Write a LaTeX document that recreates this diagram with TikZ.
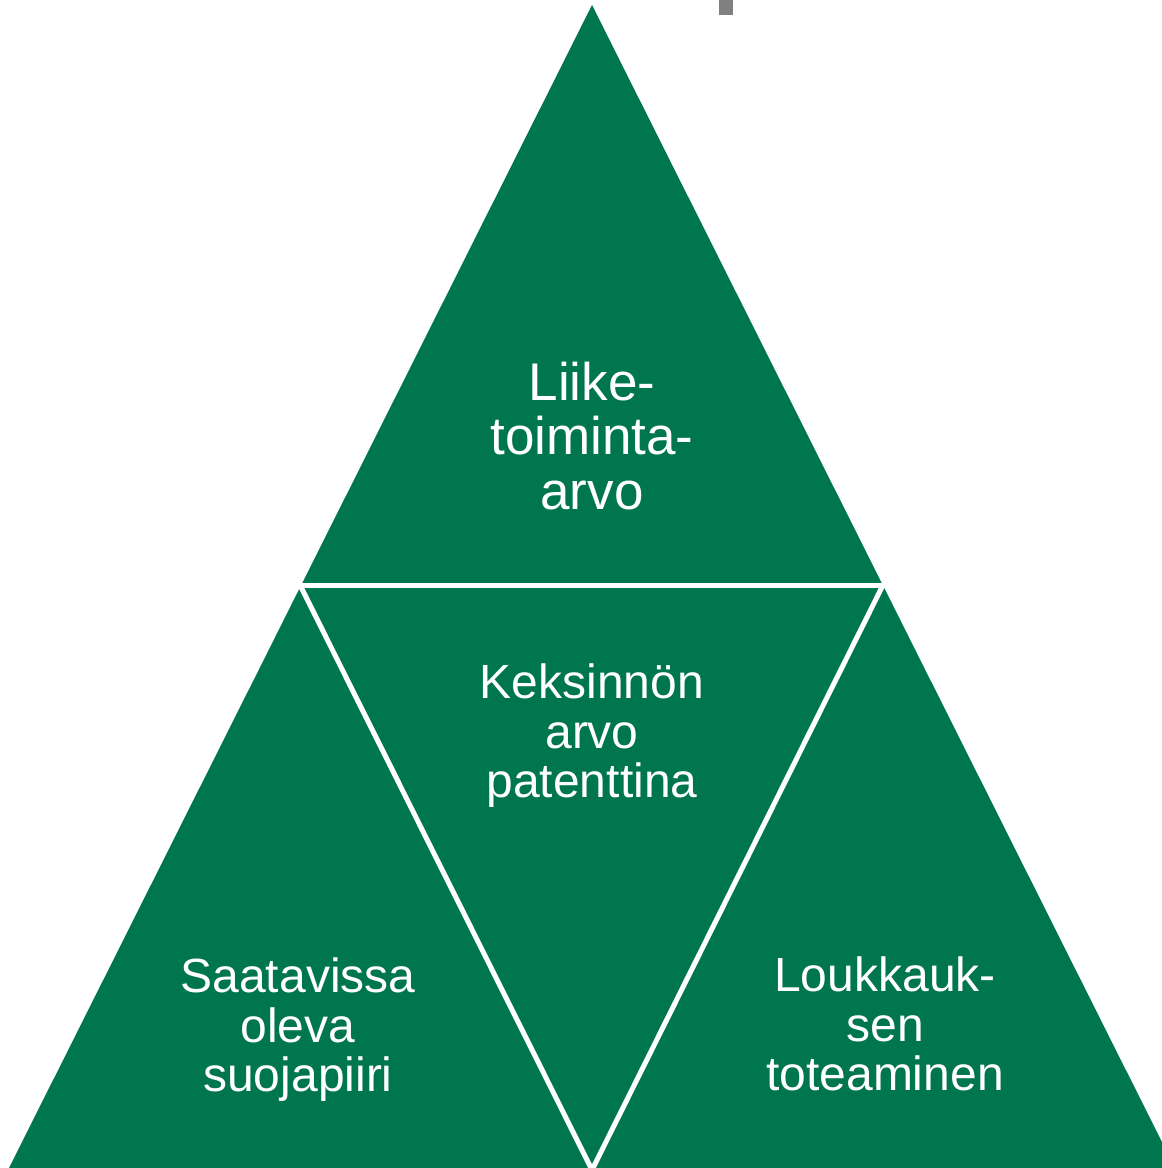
\documentclass[tikz,border=0pt]{standalone}
\usepackage{fontspec}
\setmainfont{Liberation Sans}
\definecolor{pgreen}{RGB}{0,118,79}
\definecolor{pgray}{RGB}{128,128,128}
\begin{document}
\begin{tikzpicture}[x=1pt,y=-1pt,
  lbl/.style={text=white,align=center,inner sep=0pt,font=\fontsize{48}{49.5}\selectfont},
  sep/.style={draw=white,line width=5pt}]
\useasboundingbox (0,0) rectangle (1162,1168);
\begin{scope}
\clip (0,0) rectangle (1162,1168);
\fill[pgreen] (592,5) -- (1176,1170) -- (8,1170) -- cycle;
\draw[sep] (250,585.5) -- (940,585.5);
\draw[sep] (300.5,586) -- (592,1170);
\draw[sep] (882.5,586) -- (592,1170);
\fill[pgray] (719,0) rectangle (733,15);
\end{scope}
\node[lbl,font=\fontsize{53}{54.5}\selectfont] (top) at (592,436) {Liike-\\toiminta-\\arvo};
\node[lbl] (mid) at (592,736) {Keksinnön\\arvo\\patenttina};
\node[lbl] (left) at (298,1030) {Saatavissa\\oleva\\suojapiiri};
\node[lbl] (right) at (885,1024) {Loukkauk-\\sen\\toteaminen};
\end{tikzpicture}
\end{document}
